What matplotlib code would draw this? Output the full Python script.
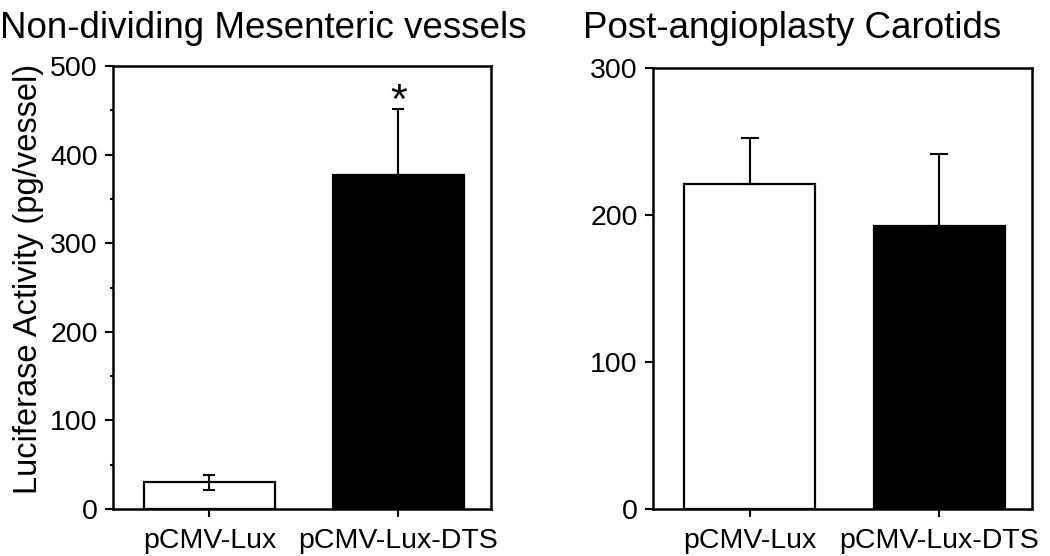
import matplotlib
matplotlib.use("Agg")
import matplotlib.pyplot as plt
from matplotlib.ticker import MultipleLocator

plt.rcParams['font.family'] = ['Liberation Sans', 'DejaVu Sans']

categories = ["pCMV-Lux", "pCMV-Lux-DTS"]
mes_values = [30, 377]
mes_err_low = [8, 0]
mes_err_high = [8, 74]
car_values = [221, 192]
car_err_low = [0, 0]
car_err_high = [31, 49]
titles = ["Non-dividing Mesenteric vessels", "Post-angioplasty Carotids"]
ylabel = "Luciferase Activity (pg/vessel)"

fig = plt.figure(figsize=(10.5, 5.56), dpi=100)
ax1 = fig.add_axes([113/1050, 1-509/556, 378/1050, (509-66)/556])
ax2 = fig.add_axes([653/1050, 1-509/556, 379/1050, (509-67.5)/556])

def draw(ax, vals, lo, hi, ymax, major, minor, cap):
    x = range(len(vals))
    ax.bar(x, vals, width=0.69, color=['white', 'black'], edgecolor='black',
           linewidth=1.6, zorder=3)
    ax.errorbar(x, vals, yerr=[lo, hi], fmt='none', ecolor='black',
                elinewidth=1.5, capsize=cap, capthick=1.5, zorder=4)
    ax.set_xlim(-0.51, 1.49)
    ax.set_ylim(0, ymax)
    ax.yaxis.set_major_locator(MultipleLocator(major))
    if minor:
        ax.yaxis.set_minor_locator(MultipleLocator(minor))
    ax.set_xticks(list(x))
    ax.set_xticklabels(categories)
    for s in ax.spines.values():
        s.set_linewidth(1.8)
    ax.tick_params(axis='both', which='major', direction='out', length=6,
                   width=1.5, labelsize=20.5, pad=5)
    ax.tick_params(axis='x', which='major', pad=8)
    ax.tick_params(axis='y', which='minor', direction='out', length=2.5, width=1.5)

draw(ax1, mes_values, mes_err_low, mes_err_high, 500, 100, 50, 4.3)
draw(ax2, car_values, car_err_low, car_err_high, 300, 100, None, 6.5)

ax1.set_ylabel(ylabel, fontsize=23.5)
ax1.yaxis.set_label_coords(-69/378, 0.52)
ax1.text(1, 447, "*", ha='center', va='baseline', fontsize=31)

fig.text(0.0, 1-38/556, titles[0], fontsize=26.5, ha='left', va='baseline')
fig.text(583/1050, 1-38/556, titles[1], fontsize=26.5, ha='left', va='baseline')

fig.savefig("out.png", dpi=100)
